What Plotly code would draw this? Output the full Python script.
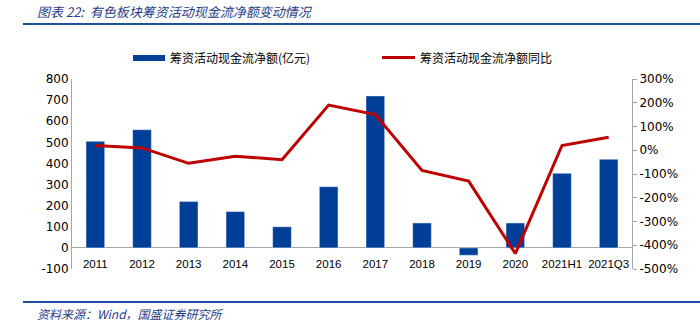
import plotly.graph_objects as go

categories = ["2011", "2012", "2013", "2014", "2015", "2016", "2017", "2018", "2019", "2020", "2021H1", "2021Q3"]
net_cash = [505, 560, 220, 172, 100, 290, 720, 118, -35, 118, 353, 420]
yoy_pct = [20, 10, -55, -25, -40, 190, 150, -85, -130, -435, 20, 55]

left_ticks = [-100, 0, 100, 200, 300, 400, 500, 600, 700, 800]
right_ticks = [-500, -400, -300, -200, -100, 0, 100, 200, 300]

bar_name = "筹资活动现金流净额(亿元)"
line_name = "筹资活动现金流净额同比"
title_text = "图表 22:  有色板块筹资活动现金流净额变动情况"
source_text = "资料来源：Wind，国盛证券研究所"

BLUE = "#003f98"
RED = "#c00000"
AX = "#a6a6a6"
FONT = "DejaVu Sans, Verdana, Noto Sans CJK SC, sans-serif"
CJK = "Noto Sans CJK SC, sans-serif"

L, R, T, B = 72, 632, 79, 269
PW, PH = R - L, B - T


def px_x(x):
    return (x - L) / PW


def px_y(y):
    return (B - y) / PH


fig = go.Figure()
fig.add_trace(go.Bar(x=categories, y=net_cash, name=bar_name, marker_color=BLUE,
                     width=0.4, yaxis="y"))
fig.add_trace(go.Scatter(x=categories, y=yoy_pct, name=line_name, mode="lines",
                         line=dict(color=RED, width=3), yaxis="y2"))

fig.update_layout(
    width=700, height=329,
    margin=dict(l=L, r=700 - R, t=T, b=329 - B, autoexpand=False),
    paper_bgcolor="white", plot_bgcolor="white",
    font=dict(family=FONT, size=12, color="#000000"),
    showlegend=False,
    xaxis=dict(type="category", showline=False, ticks="", showgrid=False,
               tickfont=dict(family="Liberation Sans, Arial, sans-serif", size=11.5),
               tickangle=0, automargin=False, ticklabelstandoff=-14),
    yaxis=dict(range=[-100, 800], tickvals=left_ticks,
               ticktext=[str(v) for v in left_ticks], showgrid=False, showline=True,
               linecolor=AX, linewidth=1, ticks="", zeroline=True,
               zerolinecolor=AX, zerolinewidth=1, tickfont=dict(size=12), automargin=False),
    yaxis2=dict(range=[-500, 300], tickvals=right_ticks,
                ticktext=[f"{v}%" for v in right_ticks], overlaying="y", side="right",
                showgrid=False, showline=True, linecolor=AX, linewidth=1,
                ticks="outside", ticklen=4, tickcolor=AX,
                zeroline=False, tickfont=dict(size=12), automargin=False),
)

# title & source
fig.add_annotation(text="<i>" + title_text + "</i>", xref="paper", yref="paper",
                   x=px_x(35), y=px_y(11), xanchor="left", yanchor="middle",
                   showarrow=False, font=dict(family=CJK, size=13, color="#1f3c88"))
fig.add_annotation(text="<i>" + source_text + "</i>", xref="paper", yref="paper",
                   x=px_x(35), y=px_y(313), xanchor="left", yanchor="middle",
                   showarrow=False, font=dict(family=CJK, size=12, color="#1f3c88"))
for yy in (24, 302):
    fig.add_shape(type="line", xref="paper", yref="paper", x0=px_x(23), x1=px_x(700),
                  y0=px_y(yy), y1=px_y(yy), line=dict(color="#1f4e9c", width=2))

# manual legend
fig.add_shape(type="rect", xref="paper", yref="paper", x0=px_x(133), x1=px_x(165),
              y0=px_y(61), y1=px_y(55), fillcolor=BLUE, line=dict(width=0))
fig.add_annotation(text=bar_name, xref="paper", yref="paper", x=px_x(168), y=px_y(57.5),
                   xanchor="left", yanchor="middle", showarrow=False,
                   font=dict(family=CJK, size=12, color="#000000"))
fig.add_shape(type="line", xref="paper", yref="paper", x0=px_x(382), x1=px_x(415),
              y0=px_y(57.5), y1=px_y(57.5), line=dict(color=RED, width=3))
fig.add_annotation(text=line_name, xref="paper", yref="paper", x=px_x(418), y=px_y(57.5),
                   xanchor="left", yanchor="middle", showarrow=False,
                   font=dict(family=CJK, size=12, color="#000000"))

fig.write_html("out.html")
